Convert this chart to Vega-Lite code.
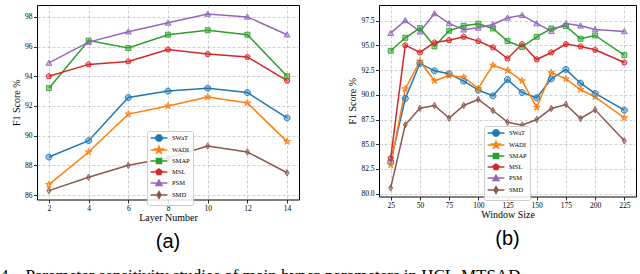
{
  "$schema": "https://vega.github.io/schema/vega-lite/v6.json",
  "background": "white",
  "padding": {"left": 0, "top": 0, "right": 0, "bottom": 0},
  "title": {"text": "4.\u00a0\u00a0\u00a0Parameter sensitivity studies of main hyper-parameters in HCL-MTSAD.", "orient": "bottom", "anchor": "start", "font": "Liberation Serif", "fontSize": 17, "fontWeight": "normal", "color": "black", "offset": 16, "dx": -11},
  "config": {
    "view": {"stroke": "black", "strokeWidth": 1},
    "axis": {"labelFont": "Liberation Serif", "labelFontSize": 7.5, "labelColor": "black", "titleFont": "Liberation Serif", "titleFontSize": 10, "titleFontWeight": "normal", "titleColor": "black", "domain": false, "tickColor": "black", "tickSize": 3.5, "tickWidth": 0.8, "labelPadding": 1.5, "titlePadding": 3, "grid": true, "gridColor": "#b0b0b0", "gridDash": [3, 2], "gridWidth": 0.6, "labelFlush": false, "labelOverlap": false},
    "axisX": {"titlePadding": 1, "labelPadding": 1},
    "legend": {"orient": "none", "title": null, "padding": 3, "rowPadding": -1, "symbolOffset": 5, "labelOffset": 9, "fillColor": "rgba(255,255,255,0.85)", "strokeColor": "#cccccc", "cornerRadius": 2, "labelFont": "Liberation Serif", "labelFontSize": 6.5, "labelColor": "black", "symbolSize": 36}
  },
  "datasets": {
    "layers": [
      {"layer": 2, "series": "SWaT", "f1": 88.56}, {"layer": 4, "series": "SWaT", "f1": 89.66}, {"layer": 6, "series": "SWaT", "f1": 92.57}, {"layer": 8, "series": "SWaT", "f1": 93.0}, {"layer": 10, "series": "SWaT", "f1": 93.2}, {"layer": 12, "series": "SWaT", "f1": 92.9}, {"layer": 14, "series": "SWaT", "f1": 91.2},
      {"layer": 2, "series": "WADI", "f1": 86.7}, {"layer": 4, "series": "WADI", "f1": 88.9}, {"layer": 6, "series": "WADI", "f1": 91.45}, {"layer": 8, "series": "WADI", "f1": 92.0}, {"layer": 10, "series": "WADI", "f1": 92.6}, {"layer": 12, "series": "WADI", "f1": 92.2}, {"layer": 14, "series": "WADI", "f1": 89.6},
      {"layer": 2, "series": "SMAP", "f1": 93.2}, {"layer": 4, "series": "SMAP", "f1": 96.4}, {"layer": 6, "series": "SMAP", "f1": 95.9}, {"layer": 8, "series": "SMAP", "f1": 96.8}, {"layer": 10, "series": "SMAP", "f1": 97.1}, {"layer": 12, "series": "SMAP", "f1": 96.8}, {"layer": 14, "series": "SMAP", "f1": 94.0},
      {"layer": 2, "series": "MSL", "f1": 94.0}, {"layer": 4, "series": "MSL", "f1": 94.8}, {"layer": 6, "series": "MSL", "f1": 95.0}, {"layer": 8, "series": "MSL", "f1": 95.8}, {"layer": 10, "series": "MSL", "f1": 95.5}, {"layer": 12, "series": "MSL", "f1": 95.3}, {"layer": 14, "series": "MSL", "f1": 93.7},
      {"layer": 2, "series": "PSM", "f1": 94.9}, {"layer": 4, "series": "PSM", "f1": 96.3}, {"layer": 6, "series": "PSM", "f1": 97.0}, {"layer": 8, "series": "PSM", "f1": 97.6}, {"layer": 10, "series": "PSM", "f1": 98.2}, {"layer": 12, "series": "PSM", "f1": 98.0}, {"layer": 14, "series": "PSM", "f1": 96.8},
      {"layer": 2, "series": "SMD", "f1": 86.3}, {"layer": 4, "series": "SMD", "f1": 87.2}, {"layer": 6, "series": "SMD", "f1": 88.0}, {"layer": 8, "series": "SMD", "f1": 88.5}, {"layer": 10, "series": "SMD", "f1": 89.3}, {"layer": 12, "series": "SMD", "f1": 88.9}, {"layer": 14, "series": "SMD", "f1": 87.5}
    ],
    "windows": [
      {"window": 25, "series": "SWaT", "f1": 83.2}, {"window": 37.5, "series": "SWaT", "f1": 89.63}, {"window": 50, "series": "SWaT", "f1": 93.18}, {"window": 62.5, "series": "SWaT", "f1": 92.43}, {"window": 75, "series": "SWaT", "f1": 92.13}, {"window": 87.5, "series": "SWaT", "f1": 91.39}, {"window": 100, "series": "SWaT", "f1": 90.47}, {"window": 112.5, "series": "SWaT", "f1": 89.9}, {"window": 125, "series": "SWaT", "f1": 91.55}, {"window": 137.5, "series": "SWaT", "f1": 90.24}, {"window": 150, "series": "SWaT", "f1": 89.7}, {"window": 162.5, "series": "SWaT", "f1": 91.62}, {"window": 175, "series": "SWaT", "f1": 92.57}, {"window": 187.5, "series": "SWaT", "f1": 91.18}, {"window": 200, "series": "SWaT", "f1": 90.14}, {"window": 225, "series": "SWaT", "f1": 88.45},
      {"window": 25, "series": "WADI", "f1": 82.9}, {"window": 37.5, "series": "WADI", "f1": 90.6}, {"window": 50, "series": "WADI", "f1": 93.4}, {"window": 62.5, "series": "WADI", "f1": 91.42}, {"window": 75, "series": "WADI", "f1": 91.96}, {"window": 87.5, "series": "WADI", "f1": 91.79}, {"window": 100, "series": "WADI", "f1": 90.64}, {"window": 112.5, "series": "WADI", "f1": 93.0}, {"window": 125, "series": "WADI", "f1": 92.47}, {"window": 137.5, "series": "WADI", "f1": 91.42}, {"window": 150, "series": "WADI", "f1": 88.72}, {"window": 162.5, "series": "WADI", "f1": 92.26}, {"window": 175, "series": "WADI", "f1": 91.62}, {"window": 187.5, "series": "WADI", "f1": 90.54}, {"window": 200, "series": "WADI", "f1": 89.8}, {"window": 225, "series": "WADI", "f1": 87.67},
      {"window": 25, "series": "SMAP", "f1": 94.46}, {"window": 37.5, "series": "SMAP", "f1": 95.78}, {"window": 50, "series": "SMAP", "f1": 96.76}, {"window": 62.5, "series": "SMAP", "f1": 94.9}, {"window": 75, "series": "SMAP", "f1": 96.49}, {"window": 87.5, "series": "SMAP", "f1": 97.0}, {"window": 100, "series": "SMAP", "f1": 97.2}, {"window": 112.5, "series": "SMAP", "f1": 96.72}, {"window": 125, "series": "SMAP", "f1": 95.44}, {"window": 137.5, "series": "SMAP", "f1": 94.86}, {"window": 150, "series": "SMAP", "f1": 95.88}, {"window": 162.5, "series": "SMAP", "f1": 96.72}, {"window": 175, "series": "SMAP", "f1": 96.96}, {"window": 187.5, "series": "SMAP", "f1": 95.68}, {"window": 200, "series": "SMAP", "f1": 96.01}, {"window": 225, "series": "SMAP", "f1": 94.02},
      {"window": 25, "series": "MSL", "f1": 83.58}, {"window": 37.5, "series": "MSL", "f1": 95.03}, {"window": 50, "series": "MSL", "f1": 94.29}, {"window": 62.5, "series": "MSL", "f1": 95.3}, {"window": 75, "series": "MSL", "f1": 95.54}, {"window": 87.5, "series": "MSL", "f1": 95.88}, {"window": 100, "series": "MSL", "f1": 95.44}, {"window": 112.5, "series": "MSL", "f1": 94.8}, {"window": 125, "series": "MSL", "f1": 93.68}, {"window": 137.5, "series": "MSL", "f1": 95.14}, {"window": 150, "series": "MSL", "f1": 93.58}, {"window": 162.5, "series": "MSL", "f1": 94.29}, {"window": 175, "series": "MSL", "f1": 95.14}, {"window": 187.5, "series": "MSL", "f1": 94.9}, {"window": 200, "series": "MSL", "f1": 94.56}, {"window": 225, "series": "MSL", "f1": 93.28},
      {"window": 25, "series": "PSM", "f1": 96.25}, {"window": 37.5, "series": "PSM", "f1": 97.53}, {"window": 50, "series": "PSM", "f1": 96.39}, {"window": 62.5, "series": "PSM", "f1": 98.24}, {"window": 75, "series": "PSM", "f1": 97.23}, {"window": 87.5, "series": "PSM", "f1": 96.59}, {"window": 100, "series": "PSM", "f1": 96.79}, {"window": 112.5, "series": "PSM", "f1": 97.13}, {"window": 125, "series": "PSM", "f1": 97.8}, {"window": 137.5, "series": "PSM", "f1": 98.07}, {"window": 150, "series": "PSM", "f1": 97.23}, {"window": 162.5, "series": "PSM", "f1": 96.45}, {"window": 175, "series": "PSM", "f1": 97.23}, {"window": 187.5, "series": "PSM", "f1": 97.0}, {"window": 200, "series": "PSM", "f1": 96.62}, {"window": 225, "series": "PSM", "f1": 96.42},
      {"window": 25, "series": "SMD", "f1": 80.57}, {"window": 37.5, "series": "SMD", "f1": 86.96}, {"window": 50, "series": "SMD", "f1": 88.65}, {"window": 62.5, "series": "SMD", "f1": 88.92}, {"window": 75, "series": "SMD", "f1": 87.64}, {"window": 87.5, "series": "SMD", "f1": 88.92}, {"window": 100, "series": "SMD", "f1": 89.53}, {"window": 112.5, "series": "SMD", "f1": 88.41}, {"window": 125, "series": "SMD", "f1": 87.23}, {"window": 137.5, "series": "SMD", "f1": 86.93}, {"window": 150, "series": "SMD", "f1": 87.5}, {"window": 162.5, "series": "SMD", "f1": 88.61}, {"window": 175, "series": "SMD", "f1": 89.02}, {"window": 187.5, "series": "SMD", "f1": 87.6}, {"window": 200, "series": "SMD", "f1": 88.48}, {"window": 225, "series": "SMD", "f1": 85.34}
    ]
  },
  "spacing": 47,
  "resolve": {"scale": {"color": "independent", "shape": "independent", "fill": "independent", "stroke": "independent"}, "legend": {"color": "independent", "shape": "independent", "fill": "independent", "stroke": "independent"}},
  "hconcat": [
    {
      "width": 262, "height": 194.5,
      "data": {"name": "layers"},
      "title": {"text": "(a)", "orient": "bottom", "anchor": "middle", "font": "Liberation Sans", "fontSize": 20, "fontWeight": "normal", "color": "black", "offset": 9},
      "encoding": {
        "x": {"field": "layer", "type": "quantitative", "scale": {"domain": [1.4, 14.6], "nice": false, "zero": false}, "axis": {"values": [2, 4, 6, 8, 10, 12, 14], "title": "Layer Number"}},
        "y": {"field": "f1", "type": "quantitative", "scale": {"domain": [85.7, 98.8], "nice": false, "zero": false}, "axis": {"values": [86, 88, 90, 92, 94, 96, 98], "title": "F1 Score %"}},
        "color": {"field": "series", "type": "nominal", "legend": null, "scale": {"domain": ["SWaT", "WADI", "SMAP", "MSL", "PSM", "SMD"], "range": ["#1f77b4", "#ff7f0e", "#2ca02c", "#d62728", "#9467bd", "#8c564b"]}}
      },
      "resolve": {"scale": {"shape": "independent", "fill": "independent", "stroke": "independent"}, "legend": {"shape": "independent", "fill": "independent", "stroke": "independent"}},
      "layer": [
        {"mark": {"type": "line", "strokeWidth": 1.5}},
        {"mark": {"type": "point", "filled": true, "fillOpacity": 0.45, "size": 34},
         "encoding": {"shape": {"field": "series", "type": "nominal", "legend": null, "scale": {"domain": ["SWaT", "WADI", "SMAP", "MSL", "PSM", "SMD"], "range": ["M-0.41,-1L0.41,-1L1,-0.41L1,0.41L0.41,1L-0.41,1L-1,0.41L-1,-0.41Z", "M0,-1.2L0.27,-0.37L1.14,-0.37L0.44,0.14L0.71,0.97L0,0.46L-0.71,0.97L-0.44,0.14L-1.14,-0.37L-0.27,-0.37Z", "M-0.85,-0.85H0.85V0.85H-0.85Z", "M0,-1L0.95,-0.31L0.59,0.81L-0.59,0.81L-0.95,-0.31Z", "M0,-1L1,0.8L-1,0.8Z", "M0,-1.1L0.65,0L0,1.1L-0.65,0Z"]}}}},
        {"mark": {"type": "point", "filled": false, "strokeWidth": 0.9, "size": 34, "opacity": 1},
         "encoding": {"shape": {"field": "series", "type": "nominal", "legend": null, "scale": {"domain": ["SWaT", "WADI", "SMAP", "MSL", "PSM", "SMD"], "range": ["M-0.41,-1L0.41,-1L1,-0.41L1,0.41L0.41,1L-0.41,1L-1,0.41L-1,-0.41Z", "M0,-1.2L0.27,-0.37L1.14,-0.37L0.44,0.14L0.71,0.97L0,0.46L-0.71,0.97L-0.44,0.14L-1.14,-0.37L-0.27,-0.37Z", "M-0.85,-0.85H0.85V0.85H-0.85Z", "M0,-1L0.95,-0.31L0.59,0.81L-0.59,0.81L-0.95,-0.31Z", "M0,-1L1,0.8L-1,0.8Z", "M0,-1.1L0.65,0L0,1.1L-0.65,0Z"]}}}},
        {"transform": [{"filter": {"field": "series", "equal": "none"}}],
         "mark": {"type": "point", "filled": true, "fillOpacity": 0.5, "strokeWidth": 1.3, "size": 36, "opacity": 1},
         "encoding": {
           "shape": {"field": "series", "type": "nominal", "scale": {"domain": ["SWaT", "WADI", "SMAP", "MSL", "PSM", "SMD"], "range": ["M-2.8,0H2.8M-0.41,-1L0.41,-1L1,-0.41L1,0.41L0.41,1L-0.41,1L-1,0.41L-1,-0.41Z", "M-2.8,0H2.8M0,-1.2L0.27,-0.37L1.14,-0.37L0.44,0.14L0.71,0.97L0,0.46L-0.71,0.97L-0.44,0.14L-1.14,-0.37L-0.27,-0.37Z", "M-2.8,0H2.8M-0.85,-0.85H0.85V0.85H-0.85Z", "M-2.8,0H2.8M0,-1L0.95,-0.31L0.59,0.81L-0.59,0.81L-0.95,-0.31Z", "M-2.8,0H2.8M0,-1L1,0.8L-1,0.8Z", "M-2.8,0H2.8M0,-1.1L0.65,0L0,1.1L-0.65,0Z"]}, "legend": {"legendX": 110, "legendY": 126, "symbolSize": 36}},
           "fill": {"field": "series", "type": "nominal", "scale": {"domain": ["SWaT", "WADI", "SMAP", "MSL", "PSM", "SMD"], "range": ["#1f77b4", "#ff7f0e", "#2ca02c", "#d62728", "#9467bd", "#8c564b"]}, "legend": {"legendX": 110, "legendY": 126, "symbolSize": 36}},
           "stroke": {"field": "series", "type": "nominal", "scale": {"domain": ["SWaT", "WADI", "SMAP", "MSL", "PSM", "SMD"], "range": ["#1f77b4", "#ff7f0e", "#2ca02c", "#d62728", "#9467bd", "#8c564b"]}, "legend": {"legendX": 110, "legendY": 126, "symbolSize": 36}}
         }}
      ]
    },
    {
      "title": {"text": " ", "fontSize": 4, "offset": 0, "anchor": "start"},
      "resolve": {"scale": {"color": "independent", "shape": "independent", "fill": "independent", "stroke": "independent"}, "legend": {"color": "independent", "shape": "independent", "fill": "independent", "stroke": "independent"}},
      "vconcat": [
        {
          "width": 257, "height": 191.5,
          "data": {"name": "windows"},
          "title": {"text": "(b)", "orient": "bottom", "anchor": "middle", "font": "Liberation Sans", "fontSize": 20, "fontWeight": "normal", "color": "black", "offset": 9},
          "encoding": {
            "x": {"field": "window", "type": "quantitative", "scale": {"domain": [15, 235], "nice": false, "zero": false}, "axis": {"values": [25, 50, 75, 100, 125, 150, 175, 200, 225], "title": "Window Size"}},
            "y": {"field": "f1", "type": "quantitative", "scale": {"domain": [79.7, 99.1], "nice": false, "zero": false}, "axis": {"values": [80, 82.5, 85, 87.5, 90, 92.5, 95, 97.5], "format": ".1f", "title": "F1 Score %"}},
            "color": {"field": "series", "type": "nominal", "legend": null, "scale": {"domain": ["SWaT", "WADI", "SMAP", "MSL", "PSM", "SMD"], "range": ["#1f77b4", "#ff7f0e", "#2ca02c", "#d62728", "#9467bd", "#8c564b"]}}
          },
          "resolve": {"scale": {"shape": "independent", "fill": "independent", "stroke": "independent"}, "legend": {"shape": "independent", "fill": "independent", "stroke": "independent"}},
          "layer": [
            {"mark": {"type": "line", "strokeWidth": 1.5}},
            {"mark": {"type": "point", "filled": true, "fillOpacity": 0.45, "size": 34},
             "encoding": {"shape": {"field": "series", "type": "nominal", "legend": null, "scale": {"domain": ["SWaT", "WADI", "SMAP", "MSL", "PSM", "SMD"], "range": ["M-0.41,-1L0.41,-1L1,-0.41L1,0.41L0.41,1L-0.41,1L-1,0.41L-1,-0.41Z", "M0,-1.2L0.27,-0.37L1.14,-0.37L0.44,0.14L0.71,0.97L0,0.46L-0.71,0.97L-0.44,0.14L-1.14,-0.37L-0.27,-0.37Z", "M-0.85,-0.85H0.85V0.85H-0.85Z", "M0,-1L0.95,-0.31L0.59,0.81L-0.59,0.81L-0.95,-0.31Z", "M0,-1L1,0.8L-1,0.8Z", "M0,-1.1L0.65,0L0,1.1L-0.65,0Z"]}}}},
            {"mark": {"type": "point", "filled": false, "strokeWidth": 0.9, "size": 34, "opacity": 1},
             "encoding": {"shape": {"field": "series", "type": "nominal", "legend": null, "scale": {"domain": ["SWaT", "WADI", "SMAP", "MSL", "PSM", "SMD"], "range": ["M-0.41,-1L0.41,-1L1,-0.41L1,0.41L0.41,1L-0.41,1L-1,0.41L-1,-0.41Z", "M0,-1.2L0.27,-0.37L1.14,-0.37L0.44,0.14L0.71,0.97L0,0.46L-0.71,0.97L-0.44,0.14L-1.14,-0.37L-0.27,-0.37Z", "M-0.85,-0.85H0.85V0.85H-0.85Z", "M0,-1L0.95,-0.31L0.59,0.81L-0.59,0.81L-0.95,-0.31Z", "M0,-1L1,0.8L-1,0.8Z", "M0,-1.1L0.65,0L0,1.1L-0.65,0Z"]}}}},
            {"transform": [{"filter": {"field": "series", "equal": "none"}}],
             "mark": {"type": "point", "filled": true, "fillOpacity": 0.5, "strokeWidth": 1.3, "size": 36, "opacity": 1},
             "encoding": {
               "shape": {"field": "series", "type": "nominal", "scale": {"domain": ["SWaT", "WADI", "SMAP", "MSL", "PSM", "SMD"], "range": ["M-2.8,0H2.8M-0.41,-1L0.41,-1L1,-0.41L1,0.41L0.41,1L-0.41,1L-1,0.41L-1,-0.41Z", "M-2.8,0H2.8M0,-1.2L0.27,-0.37L1.14,-0.37L0.44,0.14L0.71,0.97L0,0.46L-0.71,0.97L-0.44,0.14L-1.14,-0.37L-0.27,-0.37Z", "M-2.8,0H2.8M-0.85,-0.85H0.85V0.85H-0.85Z", "M-2.8,0H2.8M0,-1L0.95,-0.31L0.59,0.81L-0.59,0.81L-0.95,-0.31Z", "M-2.8,0H2.8M0,-1L1,0.8L-1,0.8Z", "M-2.8,0H2.8M0,-1.1L0.65,0L0,1.1L-0.65,0Z"]}, "legend": {"legendX": 105, "legendY": 121, "symbolSize": 36}},
               "fill": {"field": "series", "type": "nominal", "scale": {"domain": ["SWaT", "WADI", "SMAP", "MSL", "PSM", "SMD"], "range": ["#1f77b4", "#ff7f0e", "#2ca02c", "#d62728", "#9467bd", "#8c564b"]}, "legend": {"legendX": 105, "legendY": 121, "symbolSize": 36}},
               "stroke": {"field": "series", "type": "nominal", "scale": {"domain": ["SWaT", "WADI", "SMAP", "MSL", "PSM", "SMD"], "range": ["#1f77b4", "#ff7f0e", "#2ca02c", "#d62728", "#9467bd", "#8c564b"]}, "legend": {"legendX": 105, "legendY": 121, "symbolSize": 36}}
             }}
          ]
        }
      ]
    }
  ]
}
